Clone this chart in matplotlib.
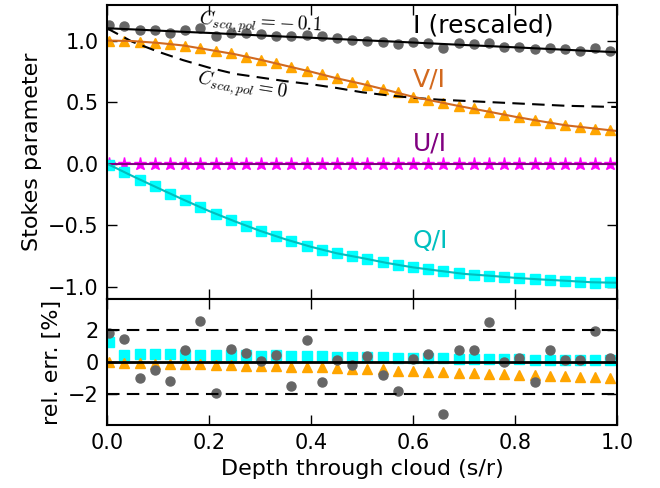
import numpy as np
import matplotlib
matplotlib.use("Agg")
import matplotlib.pyplot as plt

plt.rcParams["mathtext.fontset"] = "cm"
plt.rcParams["font.family"] = "DejaVu Sans"

# sampled depths (34 cells) and smooth model curves on a coarser grid
x_pts = np.linspace(0.0045, 0.987, 34)
x_line = np.linspace(0.0, 1.0, 21)

I_line = [1.100, 1.091, 1.081, 1.071, 1.062, 1.052, 1.042, 1.032, 1.023, 1.013, 1.003,
          0.994, 0.984, 0.974, 0.964, 0.955, 0.945, 0.935, 0.925, 0.915, 0.905]
I0_line = [1.10, 0.99, 0.91, 0.84, 0.78, 0.73, 0.70, 0.67, 0.645, 0.615, 0.58,
           0.555, 0.535, 0.52, 0.51, 0.50, 0.49, 0.48, 0.47, 0.465, 0.46]
V_line = [1.0, 0.996, 0.981, 0.960, 0.925, 0.890, 0.845, 0.796, 0.747, 0.694, 0.648,
          0.597, 0.543, 0.501, 0.460, 0.421, 0.381, 0.345, 0.311, 0.288, 0.265]
Q_line = [0.0, -0.101, -0.198, -0.293, -0.385, -0.468, -0.546, -0.615, -0.676, -0.728, -0.767,
          -0.808, -0.843, -0.870, -0.896, -0.911, -0.928, -0.941, -0.952, -0.964, -0.968]
U_line = [0.0] * 21

I_pts = [1.128, 1.12, 1.082, 1.082, 1.065, 1.082, 1.10, 1.038, 1.065, 1.06, 1.052, 1.04,
         1.038, 1.046, 1.038, 1.024, 1.006, 0.998, 0.992, 0.971, 0.992, 0.984, 0.938, 0.979,
         0.971, 0.984, 0.951, 0.946, 0.930, 0.938, 0.930, 0.918, 0.938, 0.918]
V_pts = [1.0, 1.0, 0.992, 0.984, 0.971, 0.959, 0.938, 0.916, 0.897, 0.870, 0.843, 0.816,
         0.783, 0.755, 0.728, 0.693, 0.661, 0.639, 0.604, 0.579, 0.543, 0.516, 0.494, 0.467,
         0.449, 0.421, 0.394, 0.375, 0.353, 0.334, 0.312, 0.299, 0.285, 0.272]
Q_pts = [-0.014, -0.068, -0.131, -0.185, -0.245, -0.299, -0.354, -0.408, -0.457, -0.503,
         -0.55, -0.59, -0.631, -0.666, -0.699, -0.729, -0.754, -0.775, -0.803, -0.821,
         -0.843, -0.857, -0.876, -0.892, -0.903, -0.911, -0.925, -0.93, -0.938, -0.946,
         -0.952, -0.958, -0.966, -0.965]
U_pts = [0.0] * 34

I_err = [1.77, 1.42, -1.0, -0.52, -1.19, 0.73, 2.56, -1.92, 0.83, 0.58, 0.06, 0.46,
         -1.5, 1.35, -1.21, 0.1, -0.21, 0.4, -0.79, -1.77, 0.21, 0.48, -3.23, 0.77,
         0.73, 2.5, 0.0, 0.25, -1.21, 0.77, 0.1, 0.1, 1.94, 0.27]
V_err = [0.0, -0.06, -0.06, -0.1, -0.1, -0.14, -0.14, -0.16, -0.21, -0.23, -0.27, -0.27,
         -0.31, -0.31, -0.33, -0.37, -0.42, -0.46, -0.46, -0.56, -0.56, -0.6, -0.62, -0.67,
         -0.69, -0.73, -0.77, -0.79, -0.83, -0.85, -0.89, -0.92, -0.94, -0.96]
Q_err = [1.25, 0.46, 0.52, 0.52, 0.52, 0.46, 0.46, 0.46, 0.42, 0.42, 0.375, 0.42,
         0.36, 0.36, 0.36, 0.31, 0.31, 0.31, 0.31, 0.27, 0.27, 0.27, 0.27, 0.21,
         0.21, 0.17, 0.17, 0.17, 0.1, 0.1, 0.1, 0.1, 0.1, 0.1]

fig, (ax1, ax2) = plt.subplots(2, 1, figsize=(6.6, 4.88), dpi=100, sharex=True,
                               gridspec_kw={"height_ratios": [7, 3]})
fig.subplots_adjust(left=0.162, right=0.935, top=0.99, bottom=0.129, hspace=0)

ms = 6.5
dash = (6, 3.5)
# top panel: points then model lines
ax1.plot(x_pts, I_pts, "o", color="#666666", mec="#666666", ms=ms)
ax1.plot(x_pts, V_pts, "^", color="orange", mec="orange", ms=ms)
ax1.plot(x_pts, U_pts, "*", color="magenta", mec="magenta", ms=ms + 3)
ax1.plot(x_pts, Q_pts, "s", color="cyan", mec="cyan", ms=ms)
ax1.plot(x_line, I_line, "-", color="black", lw=1.5)
ax1.plot(x_line, I0_line, "--", color="black", lw=1.5, dashes=dash)
ax1.plot(x_line, V_line, "-", color="chocolate", lw=1.5)
ax1.plot(x_line, U_line, "-", color="purple", lw=1.5)
ax1.plot(x_line, Q_line, "-", color="#00bfbf", lw=1.5)

ax1.text(0.6, 1.12, "I (rescaled)", fontsize=18, color="black", va="center", ha="left")
ax1.text(0.6, 0.68, "V/I", fontsize=18, color="chocolate", va="center", ha="left")
ax1.text(0.6, 0.165, "U/I", fontsize=18, color="purple", va="center", ha="left")
ax1.text(0.6, -0.625, "Q/I", fontsize=18, color="#00bfbf", va="center", ha="left")
ax1.text(0.30, 1.135, r"$C_{sca,pol} = -\,0.1$", fontsize=14, ha="center", va="center",
         rotation=-3)
ax1.text(0.265, 0.625, r"$C_{sca,pol} = 0$", fontsize=14, ha="center", va="center",
         rotation=-9)

ax1.set_ylim(-1.1, 1.29)
ax1.set_yticks([-1.0, -0.5, 0.0, 0.5, 1.0])
ax1.set_ylabel("Stokes parameter", fontsize=16)

# bottom panel: relative errors
ax2.plot(x_pts, Q_err, "s", color="cyan", mec="cyan", ms=ms)
ax2.plot(x_pts, V_err, "^", color="orange", mec="orange", ms=ms)
ax2.plot(x_pts, I_err, "o", color="#666666", mec="#666666", ms=ms)
ax2.axhline(0, color="black", lw=2)
ax2.axhline(2, color="black", lw=1.5, ls="--", dashes=dash)
ax2.axhline(-2, color="black", lw=1.5, ls="--", dashes=dash)
ax2.set_ylim(-3.9, 3.9)
ax2.set_yticks([-2, 0, 2])
ax2.set_ylabel("rel. err. [%]", fontsize=16)
ax2.set_xlim(0, 1)
ax2.set_xticks([0.0, 0.2, 0.4, 0.6, 0.8, 1.0])
ax2.set_xlabel("Depth through cloud (s/r)", fontsize=16)

for ax in (ax1, ax2):
    ax.tick_params(direction="in", top=True, right=True, length=7, width=1,
                   labelsize=15, pad=6)
    for s in ax.spines.values():
        s.set_linewidth(1.5)
ax1.tick_params(labelbottom=False)

fig.savefig("out.png", dpi=100)
